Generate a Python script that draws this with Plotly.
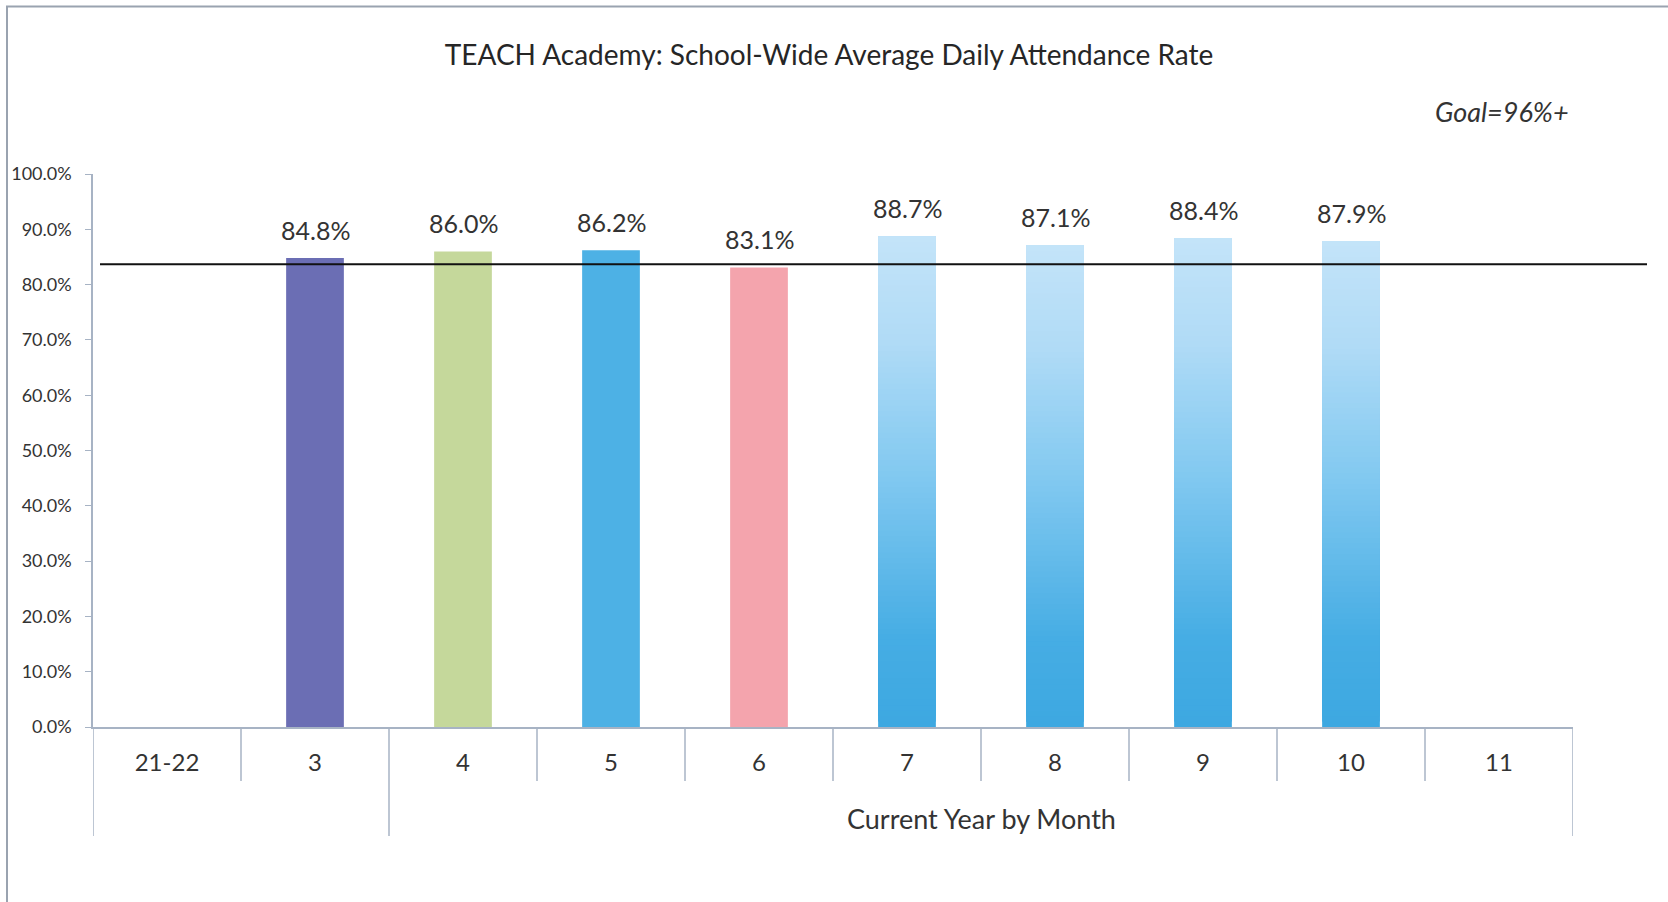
import plotly.graph_objects as go

# ---------------- data ----------------
categories = ["21-22", "3", "4", "5", "6", "7", "8", "9", "10", "11"]
values = [None, 0.848, 0.860, 0.862, 0.831, 0.887, 0.871, 0.884, 0.879, None]
group_labels = ["", "Current Year by Month"]
group_sizes = [2, 8]
reference_line = 0.837
title_text = "TEACH Academy: School-Wide Average Daily Attendance Rate"
goal_text = "Goal=96%+"

# ---------------- styles ----------------
solid_colors = [None, "#6b6eb4", "#c5d89b", "#4db1e5", "#f4a4ad", None, None, None, None, None]
gradient_flags = [False, False, False, False, False, True, True, True, True, False]
grad_stops = [(0.0, (61, 168, 225)), (0.18, (70, 173, 228)), (0.5, (128, 200, 240)),
              (0.78, (176, 219, 246)), (1.0, (196, 228, 249))]
FONT = "Lato"
AXIS_COLOR = "#a7b3c4"
TEXT_COLOR = "#333333"

W, H = 1668, 902
ML, MR, MT, MB = 93, 95, 174, 175
plot_w = W - ML - MR
plot_h = H - MT - MB


def grad_color(f):
    for (f0, c0), (f1, c1) in zip(grad_stops[:-1], grad_stops[1:]):
        if f0 <= f <= f1:
            t = (f - f0) / (f1 - f0)
            c = [round(a + (b - a) * t) for a, b in zip(c0, c1)]
            return "rgb(%d,%d,%d)" % tuple(c)
    return "rgb(%d,%d,%d)" % grad_stops[-1][1]


fig = go.Figure()

# solid bars
solid_y = [v if (c is not None) else None for v, c in zip(values, solid_colors)]
fig.add_trace(go.Bar(
    x=categories, y=solid_y,
    marker=dict(color=[c if c else "rgba(0,0,0,0)" for c in solid_colors], line=dict(width=0)),
    hoverinfo="skip", showlegend=False,
))

# gradient bars (drawn as overlapping slices from each level to the top)
N = 90
seg_x, seg_base, seg_y, seg_c = [], [], [], []
for cat, v, g in zip(categories, values, gradient_flags):
    if g and v is not None:
        for k in range(N):
            f = k / N
            b = v * f
            seg_x.append(cat)
            seg_base.append(b)
            seg_y.append(v - b)
            seg_c.append(grad_color(f))
fig.add_trace(go.Bar(
    x=seg_x, y=seg_y, base=seg_base,
    marker=dict(color=seg_c, line=dict(width=0)),
    hoverinfo="skip", showlegend=False,
))

annotations = []
# value labels (x given as category index)
for i, v in enumerate(values):
    if v is not None:
        annotations.append(dict(
            x=i, y=v, xref="x", yref="y", text=f"{v*100:.1f}%",
            showarrow=False, yanchor="bottom", yshift=11,
            font=dict(family=FONT, size=25, color=TEXT_COLOR),
        ))

shapes = []
# category dividers below the axis
n = len(categories)
group_bounds = [-0.5]
for s in group_sizes:
    group_bounds.append(group_bounds[-1] + s)
inner_len = 54 / plot_h
group_len = 109 / plot_h
for i in range(n + 1):
    xb = i - 0.5
    is_group = any(abs(xb - gb) < 1e-9 for gb in group_bounds)
    shapes.append(dict(
        type="line", xref="x", yref="paper", x0=xb, x1=xb, y0=0,
        y1=-(group_len if is_group else inner_len),
        line=dict(color=AXIS_COLOR, width=1.5),
    ))
# group labels
for gi, lab in enumerate(group_labels):
    if lab:
        mid = (group_bounds[gi] + group_bounds[gi + 1]) / 2
        annotations.append(dict(
            x=mid, y=-(818 - (MT + plot_h)) / plot_h, xref="x", yref="paper",
            text=lab, showarrow=False, yanchor="middle",
            font=dict(family=FONT, size=27, color=TEXT_COLOR),
        ))

# reference line
shapes.append(dict(
    type="line", xref="paper", yref="y",
    x0=(100 - ML) / plot_w, x1=(1647 - ML) / plot_w,
    y0=reference_line, y1=reference_line,
    line=dict(color="#111111", width=2),
))
# outer frame (left + top visible)
shapes.append(dict(
    type="rect", xref="paper", yref="paper",
    x0=(7 - ML) / plot_w, x1=1.3, y0=-0.6, y1=(MT + plot_h - 6.5) / plot_h,
    line=dict(color="#9aa3b0", width=2), fillcolor="rgba(0,0,0,0)", layer="below",
))

# goal text
annotations.append(dict(
    x=(1571 - ML) / plot_w, y=(MT + plot_h - 111) / plot_h, xref="paper", yref="paper",
    text="<i>" + goal_text + "</i>", showarrow=False, xanchor="right", yanchor="middle",
    font=dict(family=FONT, size=27, color=TEXT_COLOR),
))

fig.update_layout(
    width=W, height=H,
    margin=dict(l=ML, r=MR, t=MT, b=MB, pad=0),
    paper_bgcolor="white", plot_bgcolor="white",
    barmode="overlay", bargap=0.61,
    title=dict(text=title_text, x=829 / W, xref="container", xanchor="center",
               y=1 - 55 / H, yref="container", yanchor="middle",
               font=dict(family=FONT, size=28, color="#262626")),
    xaxis=dict(type="category", categoryorder="array", categoryarray=categories,
               range=[-0.5, n - 0.5], showline=True, linecolor=AXIS_COLOR, linewidth=1.5,
               ticks="", showgrid=False, zeroline=False, ticklabelstandoff=13,
               tickfont=dict(family=FONT, size=24, color=TEXT_COLOR)),
    yaxis=dict(range=[0, 1], dtick=0.1, tickformat=".1%", showline=True, linecolor=AXIS_COLOR,
               linewidth=1.5, ticks="outside", ticklen=6, tickcolor=AXIS_COLOR,
               showgrid=False, zeroline=False, ticklabelstandoff=10,
               tickfont=dict(family=FONT, size=18, color=TEXT_COLOR)),
    annotations=annotations, shapes=shapes,
)

fig.write_html("out.html", config={"displayModeBar": False},
               post_script="document.body.style.margin='0';document.body.style.overflow='hidden';")
